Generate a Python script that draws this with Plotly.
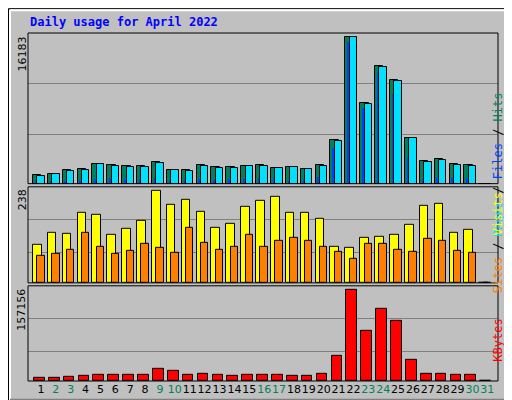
import plotly.graph_objects as go

days = list(range(1, 32))
hits = [915,1025,1464,1574,2123,2013,1903,1903,2342,1464,1464,2013,1793,1793,1903,2013,1684,1793,1574,2013,4868,16183,8930,12993,11492,5087,2562,2782,2123,2013,0]
files = [805,1025,1354,1464,2123,1903,1793,1793,2233,1464,1354,1903,1684,1684,1903,1903,1684,1793,1574,1903,4758,16183,8820,12883,11383,5087,2452,2672,2013,1903,0]
pages = [366,290,290,400,512,585,512,512,585,440,475,512,440,512,512,585,585,440,512,732,3916,15665,8418,12261,9955,2928,512,585,585,585,0]
visits = [99,130,127,181,174,125,140,161,238,202,215,184,143,153,197,210,222,181,181,166,94,91,117,119,125,150,199,204,130,137,0]
sites = [70,76,86,130,94,76,83,101,91,78,143,104,86,94,125,94,107,117,107,94,81,63,101,101,86,81,114,107,83,78,0]
kbytes = [5125,5125,6833,8541,10249,10249,10249,10249,20500,17082,10249,11957,10249,8541,10249,10249,10249,8541,8541,11957,42705,157156,85410,124700,104200,35872,11957,11957,10249,10249,0]
weekend = {2,3,9,10,16,17,23,24,30,31}
title = "Daily usage for April 2022"

GRAY = "#c0c0c0"
ln = dict(color="black", width=1)
fig = go.Figure()
fig.add_bar(x=days, y=hits, width=0.56, offset=-0.54, marker=dict(color="#00805c", line=ln), yaxis="y")
fig.add_bar(x=days, y=pages, width=0.14, offset=-0.42, marker=dict(color="#0040ff", line=dict(width=0)), yaxis="y")
fig.add_bar(x=days, y=files, width=0.5, offset=-0.25, marker=dict(color="#00e0ff", line=ln), yaxis="y")
fig.add_bar(x=days, y=visits, width=0.58, offset=-0.54, marker=dict(color="#ffff00", line=ln), yaxis="y2")
fig.add_bar(x=days, y=sites, width=0.5, offset=-0.25, marker=dict(color="#ff8000", line=ln), yaxis="y2")
fig.add_bar(x=days, y=kbytes, width=0.72, offset=-0.47, marker=dict(color="#ff0000", line=ln), yaxis="y3")

ticktext = [f"<span style='color:#00805c'>{d}</span>" if d in weekend else str(d) for d in days]
yax = dict(showticklabels=False, ticks="", showgrid=True, gridcolor="#808080", gridwidth=1,
           zeroline=False, showline=False, fixedrange=True)
fig.update_layout(
    width=512, height=400, margin=dict(l=20, r=22, t=25, b=24),
    paper_bgcolor=GRAY, plot_bgcolor=GRAY, showlegend=False, barmode="overlay", bargap=0,
    font=dict(family="DejaVu Sans", size=11, color="black"),
    xaxis=dict(range=[0.128, 31.72], tickvals=days, ticktext=ticktext, ticks="", showgrid=False,
               zeroline=False, tickangle=0, tickfont=dict(size=11), anchor="y3"),
    yaxis=dict(yax, domain=[0.567, 1.0], range=[0, 16654], tickvals=[5445, 11033]),
    yaxis2=dict(yax, domain=[0.282, 0.558], range=[0, 247.3], tickvals=[78, 163]),
    yaxis3=dict(yax, domain=[0, 0.2735], range=[0, 163500], tickvals=[51250, 107600]),
)

def px(x, y):
    return (x - 20) / 470, (376 - y) / 351

shapes = []
for y0, y1 in [(0.567, 1.0), (0.282, 0.558), (0, 0.2735)]:
    shapes.append(dict(type="rect", xref="paper", yref="paper", x0=0, x1=1, y0=y0, y1=y1,
                       line=dict(color="black", width=1)))
# outer borders (black frame, white highlight, dark shadow)
ax0, ay0 = px(0.5, 0.5); ax1, ay1 = px(511.5, 399.5)
shapes.append(dict(type="rect", xref="paper", yref="paper", x0=ax0, x1=ax1, y0=ay1, y1=ay0,
                   line=dict(color="black", width=1)))
bx0, by0 = px(2, 2); bx1, by1 = px(509, 397)
shapes.append(dict(type="line", xref="paper", yref="paper", x0=bx0, x1=bx1, y0=by0, y1=by0, line=dict(color="white", width=2)))
shapes.append(dict(type="line", xref="paper", yref="paper", x0=bx0, x1=bx0, y0=by0, y1=by1, line=dict(color="white", width=2)))
shapes.append(dict(type="line", xref="paper", yref="paper", x0=bx1 - 1/470, x1=bx1 - 1/470, y0=by0, y1=by1, line=dict(color="#808080", width=4)))
shapes.append(dict(type="line", xref="paper", yref="paper", x0=bx0, x1=bx1, y0=by1 + 1/351, y1=by1 + 1/351, line=dict(color="#808080", width=4)))
fig.update_layout(shapes=shapes)

mono = "DejaVu Sans Mono"
anns = [
    dict(text=f"<b>{title}</b>", x=0, y=1.0, xref="paper", yref="paper", xanchor="left", yanchor="bottom",
         yshift=2, showarrow=False, font=dict(family=mono, size=12, color="#0000ff")),
    dict(text="16183", x=-6/470, y=1.0, textangle=-90, yanchor="top", xanchor="center",
         xref="paper", yref="paper", showarrow=False, font=dict(size=11), yshift=-2),
    dict(text="238", x=-6/470, y=0.558, textangle=-90, yanchor="top", xanchor="center",
         xref="paper", yref="paper", showarrow=False, font=dict(size=11), yshift=-1),
    dict(text="157156", x=-6/470, y=0.2735, textangle=-90, yanchor="top", xanchor="center",
         xref="paper", yref="paper", showarrow=False, font=dict(size=11), yshift=-1),
    dict(text="<span style='color:#00e0ff'>Pages</span> / <span style='color:#0040ff'>Files</span> / <span style='color:#00805c'>Hits</span>",
         x=1 + 9/470, y=(376-83)/351, textangle=-90, xref="paper", yref="paper", showarrow=False,
         font=dict(family=mono, size=12, color="black")),
    dict(text="<span style='color:#ff8000'>Sites</span> / <span style='color:#ffff00'>Visits</span>",
         x=1 + 9/470, y=(376-237)/351, textangle=-90, xref="paper", yref="paper", showarrow=False,
         font=dict(family=mono, size=12, color="black")),
    dict(text="KBytes", x=1 + 9/470, y=(376-359)/351, textangle=-90, xref="paper", yref="paper",
         showarrow=False, font=dict(family=mono, size=12, color="#ff0000")),
]
fig.update_layout(annotations=anns)
fig.write_html("out.html")
